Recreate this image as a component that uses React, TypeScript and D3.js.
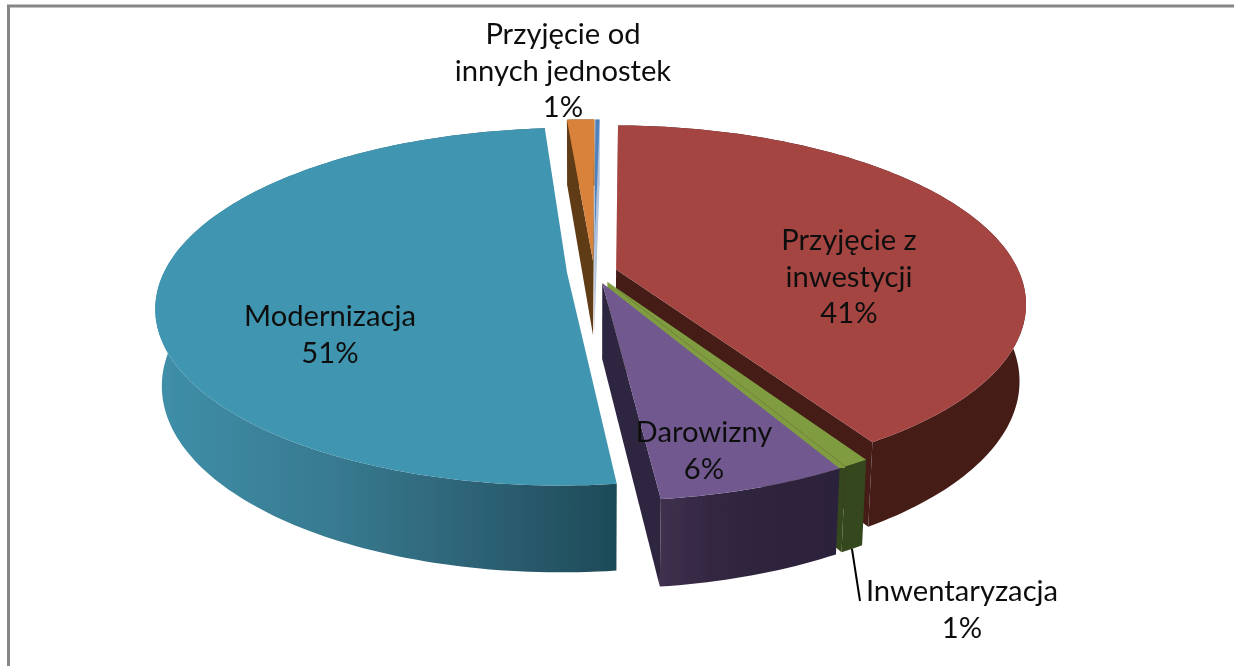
import * as d3 from 'd3'

// values (percent), clockwise from 12 o'clock
const categories = ['Przyjęcie z inwestycji', 'Inwentaryzacja', 'Darowizny', 'Modernizacja', 'Przyjęcie od innych jednostek', '']
const values = [40.9, 0.85, 6.2, 50.55, 1.3, 0.2]

const topColors = ['#a54442', '#7f9c41', '#71588f', '#4095b0', '#d9823b', '#4f81bd']
const sideColors = ['#441b18', '#36471c', 'url(#wallPurple)', 'url(#wallTeal)', '#5f3a17', '#b3c3da']
const faceColors = ['#441b18', 'url(#faceGreen)', '#2e2540', '#1e4a58', '#5f3a17', '#b3c3da']
const explodes = [0.057, 0.065, 0.067, 0.067, 0.065, 0.065]

// label lines: [category index, x, first baseline, lines]
const labelLines = [
  { i: 0, x: 849, y: 250, lines: ['Przyjęcie z', 'inwestycji'] },
  { i: 1, x: 962, y: 601, lines: ['Inwentaryzacja'] },
  { i: 2, x: 704, y: 442, lines: ['Darowizny'] },
  { i: 3, x: 330, y: 326, lines: ['Modernizacja'] },
  { i: 4, x: 563, y: 44, lines: ['Przyjęcie od', 'innych jednostek'] },
]

// back to front
const paintOrder = [4, 5, 0, 3, 1, 2]

const cx = 594, cy = 272
const rx = 403, ry = 172
const persp = 0.188 // how much the far side shrinks
const depth = 75
const turn = 0.016 // pie is turned a little past 12 o'clock
const bottomShrink = 0.985

const sx = d3.scaleLinear().domain([-1, 1]).range([cx - rx, cx + rx])
const sy = d3.scaleLinear().domain([-1, 1]).range([cy + ry, cy - ry])

function project(u: number, v: number, low: boolean): [number, number] {
  const w = 1 / (1 + persp * v)
  const px = cx + (sx(u) - cx) * w * (low ? bottomShrink : 1)
  const py = cy + (sy(v) - cy) * w + (low ? depth * Math.pow(w, 0.7) : 0)
  return [px, py]
}

const pie = d3.pie<number>().sort(null).value(d => d)
  .startAngle(turn).endAngle(2 * Math.PI + turn)
const arcs = pie(values)
const line = d3.line()

function area(p: [number, number][]) {
  return p.reduce((s, a, k) => {
    const b = p[(k + 1) % p.length]
    return s + a[0] * b[1] - b[0] * a[1]
  }, 0)
}

function sliceShapes(i: number) {
  const a0 = arcs[i].startAngle, a1 = arcs[i].endAngle
  const m = (a0 + a1) / 2
  const ox = explodes[i] * Math.sin(m), oy = explodes[i] * Math.cos(m)
  const pt = (a: number, low: boolean) => project(ox + Math.sin(a), oy + Math.cos(a), low)
  const steps = Math.max(2, Math.ceil((a1 - a0) / 0.02))
  const angles = d3.range(steps + 1).map(k => a0 + (a1 - a0) * k / steps)
  const apexTop = project(ox, oy, false), apexLow = project(ox, oy, true)
  const top = line([apexTop, ...angles.map(a => pt(a, false))]) + 'Z'
  const wall = line([...angles.map(a => pt(a, false)), ...angles.slice().reverse().map(a => pt(a, true))]) + 'Z'
  // cut faces, only the ones turned towards the viewer
  const f0: [number, number][] = [apexTop, pt(a0, false), pt(a0, true), apexLow]
  const f1: [number, number][] = [apexTop, pt(a1, false), pt(a1, true), apexLow]
  const faces: string[] = []
  if (area(f0) < 0) faces.push(line(f0) + 'Z')
  if (area(f1) > 0) faces.push(line(f1) + 'Z')
  return { top, wall, faces, midLow: pt(m, true) }
}

const font = 'Lato, "Open Sans", sans-serif'

export default function App() {
  const leaderFrom = sliceShapes(1).midLow
  return (
    <svg width={1234} height={666} style={{ position: 'absolute', left: 0, top: 0, background: '#fff' }}>
      <defs>
        <linearGradient id="wallTeal" gradientUnits="userSpaceOnUse" x1={157} x2={615} y1={0} y2={0}>
          <stop offset="0" stopColor="#3f8fa9" />
          <stop offset="0.4" stopColor="#37798f" />
          <stop offset="0.7" stopColor="#2d6275" />
          <stop offset="1" stopColor="#1e4a58" />
        </linearGradient>
        <linearGradient id="wallPurple" gradientUnits="userSpaceOnUse" x1={610} x2={840} y1={0} y2={0}>
          <stop offset="0" stopColor="#2e2540" />
          <stop offset="0.22" stopColor="#40304e" />
          <stop offset="0.5" stopColor="#30253f" />
          <stop offset="1" stopColor="#2c233c" />
        </linearGradient>
        <linearGradient id="faceGreen" gradientUnits="userSpaceOnUse" x1={0} x2={0} y1={280} y2={560}>
          <stop offset="0.67" stopColor="#7f9c41" />
          <stop offset="0.67" stopColor="#36471c" />
        </linearGradient>
        <filter id="soft" x="-5%" y="-5%" width="110%" height="110%">
          <feGaussianBlur stdDeviation="0.5" />
        </filter>
      </defs>
      <g filter="url(#soft)">
        <path d="M8.5 666V6H1234" fill="none" stroke="#868686" strokeWidth={3} />
        {paintOrder.map(i => {
          const s = sliceShapes(i)
          return (
            <g key={i}>
              {s.faces.map((d, k) => <path key={k} d={d} fill={faceColors[i]} />)}
              <path d={s.wall} fill={sideColors[i]} />
              <path d={s.top} fill={topColors[i]} />
            </g>
          )
        })}
        <line x1={leaderFrom[0]} y1={leaderFrom[1]} x2={860} y2={601} stroke="#000" strokeWidth={2} />
        {labelLines.map(l => (
          <text key={l.i} fontFamily={font} fontSize={29.2} fill="#111" textAnchor="middle">
            {[...l.lines, d3.format('.0f')(values[l.i]) + '%'].map((t, k) => (
              <tspan key={k} x={l.x} y={l.y + k * 36.5}>{t}</tspan>
            ))}
          </text>
        ))}
      </g>
    </svg>
  )
}
